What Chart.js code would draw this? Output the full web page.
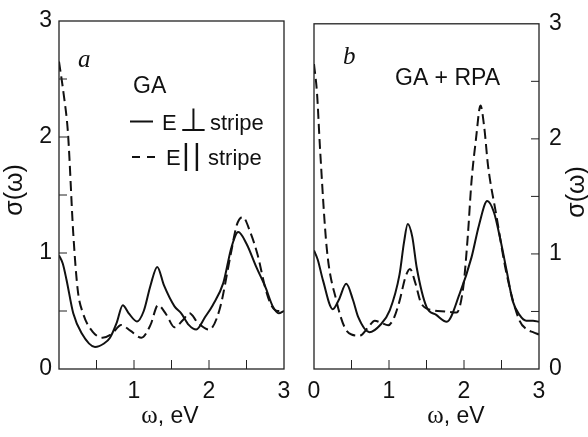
<!DOCTYPE html>
<html lang="en">
<head>
<meta charset="UTF-8" />
<title>Optical conductivity, GA and GA + RPA</title>
<style>
  html, body { margin: 0; padding: 0; background: #fff; }
  #wrap { position: relative; width: 588px; height: 437px; overflow: hidden; }
  .pane { position: absolute; top: 0; height: 437px; }
  #paneA { left: 0; width: 300px; }
  #paneB { left: 290px; width: 298px; }
</style>
<script src="https://cdn.jsdelivr.net/npm/chart.js"></script>
</head>
<body>
<div id="wrap">
  <div class="pane" id="paneA"><canvas id="chartA" width="300" height="437"></canvas></div>
  <div class="pane" id="paneB"><canvas id="chartB" width="298" height="437"></canvas></div>
</div>
<script>
// axis ticks
const yTickLabels = ['0', '1', '2', '3'];
const xTickLabelsA = ['', '1', '2', '3'];
const xTickLabelsB = ['0', '1', '2', '3'];
const innerTicks = [0.5, 1, 1.5, 2, 2.5];

// panel a (GA), E perpendicular to stripe
const gaPerpX = [0, 0.05, 0.1, 0.19, 0.3, 0.48, 0.6, 0.68, 0.77, 0.85, 0.93, 1.04, 1.13, 1.22, 1.31, 1.4, 1.54, 1.63, 1.73, 1.83, 1.95, 2.05, 2.19, 2.3, 2.39, 2.5, 2.63, 2.75, 2.85, 2.93, 3];
const gaPerpY = [0.98, 0.91, 0.77, 0.48, 0.31, 0.19, 0.22, 0.27, 0.4, 0.55, 0.48, 0.41, 0.5, 0.72, 0.88, 0.72, 0.54, 0.48, 0.38, 0.34, 0.45, 0.55, 0.74, 1.05, 1.18, 1.08, 0.88, 0.71, 0.54, 0.48, 0.5];
// panel a (GA), E parallel to stripe
const gaParX = [0, 0.06, 0.12, 0.19, 0.25, 0.32, 0.45, 0.58, 0.7, 0.83, 0.95, 1.1, 1.22, 1.32, 1.43, 1.54, 1.65, 1.74, 1.85, 2.0, 2.14, 2.29, 2.37, 2.45, 2.55, 2.65, 2.75, 2.83, 2.92, 3];
const gaParY = [2.65, 2.38, 2.03, 1.17, 0.68, 0.48, 0.32, 0.27, 0.3, 0.38, 0.33, 0.27, 0.38, 0.55, 0.47, 0.36, 0.42, 0.48, 0.4, 0.34, 0.51, 0.99, 1.24, 1.31, 1.18, 0.98, 0.7, 0.55, 0.5, 0.5];

// panel b (GA + RPA), E perpendicular to stripe
const rpaPerpX = [0, 0.05, 0.12, 0.25, 0.33, 0.43, 0.52, 0.59, 0.74, 0.88, 1.01, 1.14, 1.2, 1.25, 1.31, 1.37, 1.5, 1.63, 1.77, 1.94, 2.1, 2.2, 2.31, 2.4, 2.48, 2.57, 2.65, 2.74, 2.83, 2.92, 3];
const rpaPerpY = [1.03, 0.95, 0.77, 0.52, 0.6, 0.74, 0.6, 0.45, 0.32, 0.38, 0.51, 0.82, 1.1, 1.26, 1.15, 0.88, 0.54, 0.47, 0.41, 0.65, 0.97, 1.25, 1.46, 1.36, 1.14, 0.85, 0.59, 0.47, 0.42, 0.42, 0.41];
// panel b (GA + RPA), E parallel to stripe
const rpaParX = [0, 0.04, 0.08, 0.17, 0.3, 0.41, 0.5, 0.61, 0.72, 0.81, 0.9, 0.99, 1.07, 1.14, 1.22, 1.28, 1.35, 1.43, 1.59, 1.75, 1.9, 1.99, 2.05, 2.1, 2.16, 2.22, 2.27, 2.32, 2.43, 2.57, 2.74, 2.85, 2.92, 3];
const rpaParY = [2.65, 2.4, 1.92, 1.05, 0.59, 0.36, 0.3, 0.29, 0.36, 0.42, 0.4, 0.38, 0.45, 0.59, 0.8, 0.87, 0.75, 0.57, 0.51, 0.5, 0.49, 0.71, 1.15, 1.63, 2.0, 2.29, 2.1, 1.77, 1.34, 0.82, 0.42, 0.34, 0.32, 0.3];

const SANS = '"Liberation Sans", Arial, sans-serif';
const SERIF = '"Liberation Serif", "Times New Roman", serif';
const INK = '#111';

function points(xs, ys) {
  return xs.map((x, i) => ({ x: x, y: ys[i] }));
}

function line(xs, ys, dashed) {
  return {
    data: points(xs, ys),
    borderColor: INK,
    borderWidth: 2,
    borderDash: dashed ? [10, 5] : [],
    pointRadius: 0,
    fill: false,
    cubicInterpolationMode: 'monotone'
  };
}

// frame, inward ticks and all the free text of a panel
const framePlugin = {
  id: 'frame',
  afterDatasetsDraw(chart, args, opts) {
    const ctx = chart.ctx;
    const a = chart.chartArea;
    const xs = chart.scales.x, ys = chart.scales.y;
    ctx.save();
    ctx.strokeStyle = '#222';
    ctx.lineWidth = 1.3;
    ctx.setLineDash([]);
    ctx.strokeRect(a.left, a.top, a.right - a.left, a.bottom - a.top);

    ctx.lineWidth = 1;
    innerTicks.forEach(v => {
      const px = xs.getPixelForValue(v);
      ctx.beginPath(); ctx.moveTo(px, a.bottom); ctx.lineTo(px, a.bottom - 9); ctx.stroke();
      const py = ys.getPixelForValue(v);
      const sx = opts.side === 'left' ? a.left : a.right;
      const d = opts.side === 'left' ? 8 : -8;
      ctx.beginPath(); ctx.moveTo(sx, py); ctx.lineTo(sx + d, py); ctx.stroke();
    });

    ctx.fillStyle = INK;
    ctx.textBaseline = 'alphabetic';
    (opts.texts || []).forEach(t => {
      ctx.font = t.font;
      ctx.textAlign = t.align || 'left';
      ctx.fillText(t.text, t.x, t.y);
    });

    // legend samples
    (opts.samples || []).forEach(s => {
      ctx.strokeStyle = INK;
      ctx.lineWidth = 2;
      ctx.setLineDash(s.dash);
      ctx.beginPath(); ctx.moveTo(s.x0, s.y); ctx.lineTo(s.x1, s.y); ctx.stroke();
    });
    ctx.setLineDash([]);

    // y title, reading upwards
    ctx.save();
    ctx.translate(opts.yTitle.x, opts.yTitle.y);
    ctx.rotate(-Math.PI / 2);
    ctx.font = '25px ' + SANS;
    ctx.textAlign = 'center';
    ctx.textBaseline = 'middle';
    ctx.fillText('σ(ω)', 0, 0);
    ctx.restore();

    // x title: serif omega, sans unit
    ctx.textAlign = 'left';
    ctx.textBaseline = 'alphabetic';
    ctx.font = '25px ' + SERIF;
    const w1 = ctx.measureText('ω').width;
    ctx.font = '23px ' + SANS;
    const w2 = ctx.measureText(', eV').width;
    const x0 = opts.xTitle.x - (w1 + w2) / 2;
    ctx.font = '25px ' + SERIF;
    ctx.fillText('ω', x0, opts.xTitle.y);
    ctx.font = '23px ' + SANS;
    ctx.fillText(', eV', x0 + w1, opts.xTitle.y);
    ctx.restore();
  }
};

function makeChart(id, datasets, side, xLabels, pad, yWidth, frame) {
  return new Chart(document.getElementById(id), {
    type: 'line',
    data: { datasets: datasets },
    options: {
      responsive: false,
      animation: false,
      devicePixelRatio: 1,
      layout: { padding: pad },
      plugins: { legend: { display: false }, tooltip: { enabled: false }, frame: frame },
      scales: {
        x: {
          type: 'linear', min: 0, max: 3,
          grid: { display: false, drawTicks: false },
          border: { display: false },
          ticks: {
            stepSize: 1, padding: 9, color: INK,
            font: { family: SANS, size: 23 },
            callback: v => xLabels[v]
          },
          afterFit: s => { s.height = 68; }
        },
        y: {
          position: side, min: 0, max: 3,
          grid: { display: false, drawTicks: false },
          border: { display: false },
          ticks: {
            stepSize: 1, padding: side === 'left' ? 7 : 10, color: INK,
            font: { family: SANS, size: 23 },
            callback: v => yTickLabels[v]
          },
          afterFit: s => { s.width = yWidth; }
        }
      }
    },
    plugins: [framePlugin]
  });
}

makeChart('chartA',
  [line(gaPerpX, gaPerpY, false), line(gaParX, gaParY, true)],
  'left', xTickLabelsA, { top: 21, right: 16, left: 0, bottom: 0 }, 59,
  {
    side: 'left',
    yTitle: { x: 15, y: 190 },
    xTitle: { x: 170, y: 423 },
    texts: [
      { text: 'a', x: 78, y: 67, font: 'italic 25px ' + SERIF },
      { text: 'GA', x: 133, y: 93, font: '23px ' + SANS },
      { text: 'E', x: 162, y: 130, font: '22px ' + SANS },
      { text: '⊥', x: 193.5, y: 131, font: '32px "DejaVu Sans", sans-serif', align: 'center' },
      { text: 'stripe', x: 210, y: 130, font: '22px ' + SANS },
      { text: 'E', x: 166, y: 165, font: '22px ' + SANS },
      { text: '|', x: 186, y: 165, font: '30px ' + SANS, align: 'center' },
      { text: '|', x: 197, y: 165, font: '30px ' + SANS, align: 'center' },
      { text: 'stripe', x: 208, y: 165, font: '22px ' + SANS }
    ],
    samples: [
      { x0: 130, x1: 153, y: 121.5, dash: [] },
      { x0: 132, x1: 155, y: 157, dash: [8, 7] }
    ]
  });

makeChart('chartB',
  [line(rpaPerpX, rpaPerpY, false), line(rpaParX, rpaParY, true)],
  'right', xTickLabelsB, { top: 21, right: 0, left: 24, bottom: 0 }, 49,
  {
    side: 'right',
    yTitle: { x: 287, y: 192 },
    xTitle: { x: 166, y: 423 },
    texts: [
      { text: 'b', x: 53, y: 64, font: 'italic 25px ' + SERIF },
      { text: 'GA + RPA', x: 105, y: 85, font: '23px ' + SANS }
    ]
  });
</script>
</body>
</html>
